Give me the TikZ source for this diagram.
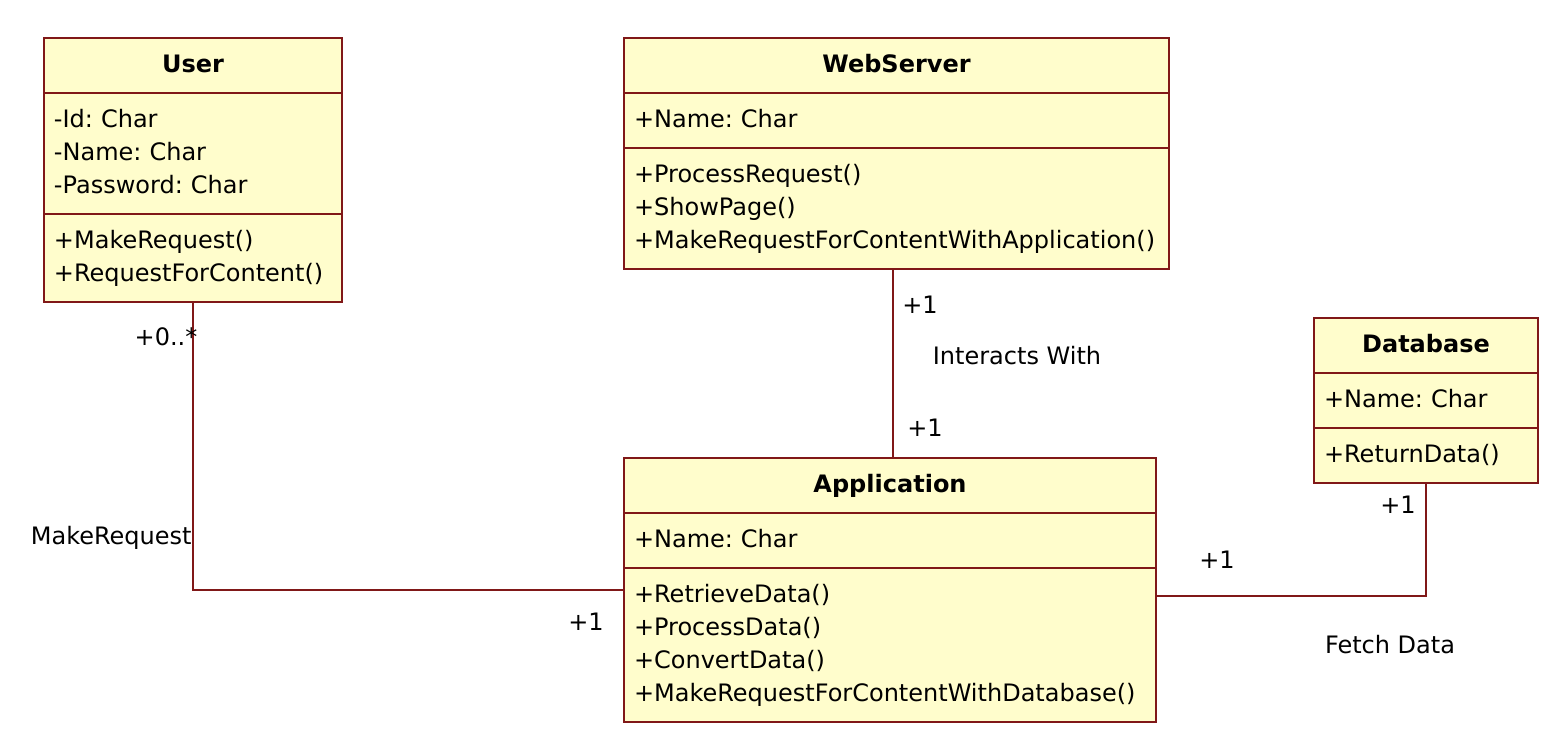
\documentclass[tikz,border=0pt]{standalone}
\usepackage{fontspec}
\setmainfont{DejaVu Sans}
\usetikzlibrary{shapes.multipart}

\definecolor{classfill}{RGB}{255,253,204}
\definecolor{classline}{RGB}{128,24,24}

\tikzset{
	umlclass/.style={draw=classline, fill=classfill, line width=1pt,
		rectangle split, rectangle split parts=3, anchor=north west,
		inner xsep=5pt, inner ysep=5pt, align=left,
		font=\fontsize{12}{16.5}\selectfont\frenchspacing},
	assoc/.style={draw=classline, line width=1pt},
	rolelabel/.style={inner sep=0pt, font=\fontsize{12}{16.5}\selectfont}
}

\begin{document}
\begin{tikzpicture}[x=0.5pt, y=-0.5pt]
			%%%%% START %%%%%
			\useasboundingbox (0, 0) rectangle (1555, 735);
			
			% classes
			\node[umlclass, text width=139pt] (user) at (43, 37)
				{\strut\hfill\textbf{User}\hfill\strut
				\nodepart{two}\strut -Id: Char\\ -Name: Char\\ -Password: Char\strut
				\nodepart{three}\strut +MakeRequest()\\ +RequestForContent()\strut};
			
			\node[umlclass, text width=262.5pt] (web) at (623, 37)
				{\strut\hfill\textbf{WebServer}\hfill\strut
				\nodepart{two}\strut +Name: Char\strut
				\nodepart{three}\strut +ProcessRequest()\\ +ShowPage()\\ +MakeRequestForContentWithApplication()\strut};
			
			\node[umlclass, text width=102pt] (db) at (1313, 317)
				{\strut\hfill\textbf{Database}\hfill\strut
				\nodepart{two}\strut +Name: Char\strut
				\nodepart{three}\strut +ReturnData()\strut};
			
			\node[umlclass, text width=256pt] (app) at (623, 457)
				{\strut\hfill\textbf{Application}\hfill\strut
				\nodepart{two}\strut +Name: Char\strut
				\nodepart{three}\strut +RetrieveData()\\ +ProcessData()\\ +ConvertData()\\ +MakeRequestForContentWithDatabase()\strut};
			
			% associations
			\draw[assoc] (user.south) |- (app.west);
			\draw[assoc] ([xshift=-2pt]web.south) -- ([xshift=-2pt]web.south |- app.north);
			\draw[assoc] ([yshift=-3pt]app.east) -| (db.south);
			
			% labels
			\node[rolelabel] (usermult) at (166, 337) {+0..*};
			\node[rolelabel, anchor=east] (userrole) at (192, 538) {MakeRequest};
			\node[rolelabel] (appmultu) at (586, 622) {+1};
			\node[rolelabel] (webmult) at (920, 305) {+1};
			\node[rolelabel] (webrole) at (1017, 356) {Interacts With};
			\node[rolelabel] (appmultw) at (925, 428) {+1};
			\node[rolelabel] (appmultd) at (1217, 560) {+1};
			\node[rolelabel] (dbmult) at (1398, 505) {+1};
			\node[rolelabel] (dbrole) at (1390, 645) {Fetch Data};
			
			%%%%% END %%%%%
\end{tikzpicture}
\end{document}
